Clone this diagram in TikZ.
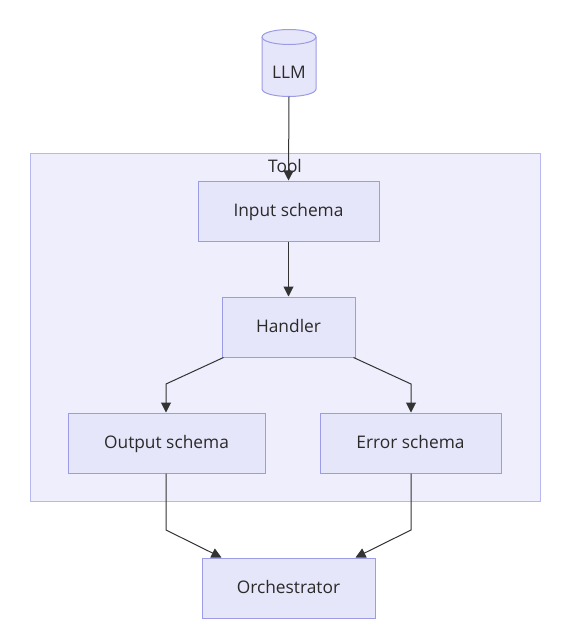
\documentclass[tikz,border=0pt]{standalone}
\usepackage{fontspec}
\setmainfont{Open Sans}
\usetikzlibrary{arrows.meta}
\definecolor{nodefill}{HTML}{E6E6FA}
\definecolor{nodestroke}{HTML}{9C9CE6}
\definecolor{clusterfill}{HTML}{EEEEFC}
\definecolor{clusterstroke}{HTML}{B8B8F0}
\definecolor{edgecol}{HTML}{333333}
\definecolor{textcol}{HTML}{2A2A2A}
\tikzset{
  lbl/.style={text=textcol, font=\fontsize{13}{15}\selectfont, text height=9.3pt, text depth=1.5pt},
  box/.style={lbl, draw=nodestroke, fill=nodefill, line width=0.75pt, inner sep=0pt},
  edge/.style={draw=edgecol, line width=0.75pt, -{Triangle[length=7.5pt,width=7.5pt]}},
}
\begin{document}
\begin{tikzpicture}[x=0.75pt,y=-0.75pt]
\useasboundingbox (0,0) rectangle (570,632);
\fill[white] (0,0) rectangle (570,632);
% cluster
\draw[draw=clusterstroke, fill=clusterfill, line width=0.75pt] (30,153) rectangle (540,501);
\node[lbl] (toollbl) at (285,167) {Tool};
% cylinder LLM (y axis points down: angle 90 is down on the page)
\draw[draw=nodestroke, fill=nodefill, line width=0.75pt]
  (262,37) -- (262,89) arc[start angle=180, end angle=0, x radius=27, y radius=7.5]
  -- (316,37) arc[start angle=0, end angle=-180, x radius=27, y radius=7.5] -- cycle;
\draw[draw=nodestroke, line width=0.75pt] (262,37) arc[start angle=180, end angle=0, x radius=27, y radius=7.5];
\node[lbl] (llmtext) at (289,73) {LLM};
\coordinate (llm) at (289,96.5);
% boxes
\node[box, minimum width=135.75pt, minimum height=45pt] (input) at (288.5,211) {Input schema};
\node[box, minimum width=99.75pt, minimum height=45pt] (handler) at (288.5,327) {Handler};
\node[box, minimum width=147.75pt, minimum height=45pt] (output) at (166.5,443) {Output schema};
\node[box, minimum width=135.75pt, minimum height=45pt] (error) at (410.5,443) {Error schema};
\node[box, minimum width=129.75pt, minimum height=45pt] (orch) at (288.5,588) {Orchestrator};
% edges
\draw[edge] (llm) -- (input.north);
\draw[edge] (input.south) -- (handler.north);
\draw[edge] ([xshift=1.5pt]handler.south west) -- (166,384) -- (output.north -| 166,0);
\draw[edge] ([xshift=-1.5pt]handler.south east) -- (411,384) -- (error.north -| 411,0);
\draw[edge] (output.south -| 166,0) -- (166,530) -- ([xshift=15pt]orch.north west);
\draw[edge] (error.south -| 411,0) -- (411,530) -- ([xshift=-15pt]orch.north east);
\end{tikzpicture}
\end{document}
